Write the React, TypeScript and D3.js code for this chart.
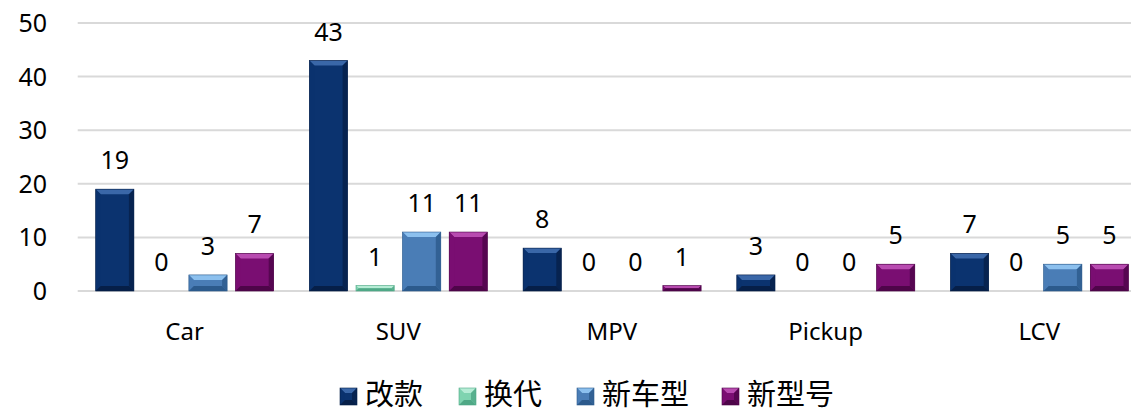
import React from "react";
import { scaleBand, scaleLinear } from "d3";

const categories = ["Car", "SUV", "MPV", "Pickup", "LCV"];
const seriesNames = ["改款", "换代", "新车型", "新型号"];
const facelift = [19, 43, 8, 3, 7];
const generation = [0, 1, 0, 0, 0];
const newModel = [3, 11, 0, 0, 5];
const newVariant = [7, 11, 1, 5, 5];
const yTicks = [0, 10, 20, 30, 40, 50];

const seriesValues = [facelift, generation, newModel, newVariant];
const colors = [
  { base: "#0b336f", light: "#3a67a8", dark: "#061f48" },
  { base: "#7fd3b0", light: "#b6ecd5", dark: "#4fa886" },
  { base: "#4a7db6", light: "#8cc0ee", dark: "#2c5a8c" },
  { base: "#7a0e72", light: "#b84bb0", dark: "#4e0549" },
];

const W = 1131;
const H = 412;
const font = "'Noto Sans', 'Noto Sans CJK SC', sans-serif";

// bar with a bevelled edge like the office chart style
function BevelBar({ x, y, w, h, c }) {
  if (h <= 0) return null;
  const b = Math.min(5, h / 2, w / 2);
  const x2 = x + w;
  const y2 = y + h;
  return (
    <g>
      <rect x={x} y={y} width={w} height={h} fill={c.base} />
      <polygon points={`${x},${y} ${x2},${y} ${x2 - b},${y + b} ${x + b},${y + b}`} fill={c.light} />
      <polygon points={`${x},${y} ${x + b},${y + b} ${x + b},${y2 - b} ${x},${y2}`} fill={c.base} opacity={0.85} />
      <polygon points={`${x2},${y} ${x2},${y2} ${x2 - b},${y2 - b} ${x2 - b},${y + b}`} fill={c.dark} opacity={0.8} />
      <polygon points={`${x},${y2} ${x2},${y2} ${x2 - b},${y2 - b} ${x + b},${y2 - b}`} fill={c.dark} />
      <rect x={x} y={y} width={w} height={h} fill="none" stroke={c.dark} strokeWidth={0.6} />
    </g>
  );
}

export default function App() {
  const left = 77.7;
  const step = 213.7;
  const x0 = scaleBand<string>()
    .domain(categories)
    .range([left, left + step * categories.length]);
  const x1 = scaleBand<string>()
    .domain(seriesNames)
    .range([18, 196])
    .paddingInner(0.18);
  const y = scaleLinear().domain([0, 50]).range([291, 23]);

  const legendX = [340, 459, 577, 722];

  return (
    <svg
      width={W}
      height={H}
      style={{ position: "absolute", left: 0, top: 0, background: "#fff" }}
      fontFamily={font}
    >
      {yTicks.map((t) => (
        <g key={`t-${t}`}>
          <line x1={left} x2={W} y1={y(t)} y2={y(t)} stroke="#d9d9d9" strokeWidth={2} />
          <text x={47} y={y(t)} dy="0.36em" textAnchor="end" fontSize={25} fill="#000">
            {t}
          </text>
        </g>
      ))}
      {categories.map((cat, i) => (
        <g key={cat} transform={`translate(${x0(cat)},0)`}>
          {seriesNames.map((s, j) => {
            const v = seriesValues[j][i];
            const bx = x1(s) as number;
            const bw = x1.bandwidth();
            return (
              <g key={s}>
                <BevelBar x={bx} y={y(v)} w={bw} h={y(0) - y(v)} c={colors[j]} />
                <text
                  x={bx + bw / 2}
                  y={y(v) - 29}
                  dy="0.36em"
                  textAnchor="middle"
                  fontSize={25}
                  fill="#000"
                >
                  {v}
                </text>
              </g>
            );
          })}
          <text x={x0.bandwidth() / 2} y={331} dy="0.36em" textAnchor="middle" fontSize={24} fill="#000">
            {cat}
          </text>
        </g>
      ))}
      {seriesNames.map((s, j) => (
        <g key={`lg-${s}`}>
          <BevelBar x={legendX[j]} y={388} w={17} h={17} c={colors[j]} />
          <text x={legendX[j] + 25} y={395} dy="0.34em" fontSize={29} fill="#000">
            {s}
          </text>
        </g>
      ))}
    </svg>
  );
}
